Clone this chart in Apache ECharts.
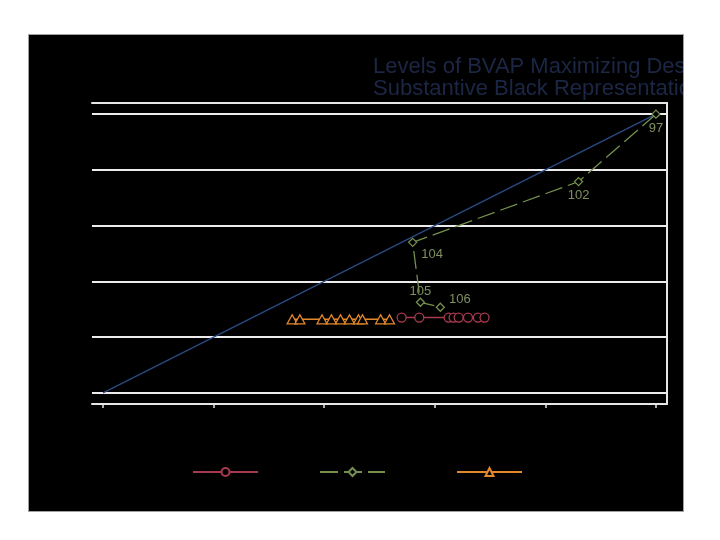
<!DOCTYPE html>
<html>
<head>
<meta charset="utf-8">
<script src="https://cdn.jsdelivr.net/npm/echarts@6/dist/echarts.min.js"></script>
<style>
  html, body { margin: 0; padding: 0; background: #fff; }
  .frame {
    position: absolute;
    left: 28px; top: 34px;
    width: 656px; height: 478px;
    border: 1px solid #a0a0a0;
    box-sizing: border-box;
    background: #000;
  }
  #chart { width: 654px; height: 476px; }
</style>
</head>
<body>
<div class="frame"><div id="chart"></div></div>
<script>
// axis ticks / gridlines (BVAP share)
const tickValues = [0.3, 0.4, 0.5, 0.6, 0.7, 0.8]

// reference diagonal
const diagonal = [[0.3, 0.3], [0.8, 0.8]]

// green series, labelled by congress
const congressLabels = ['97', '102', '104', '105', '106']
const congressX = [0.8, 0.73, 0.58, 0.587, 0.605]
const congressY = [0.8, 0.679, 0.57, 0.4625, 0.4536]

// red circles
const circleX = [0.57, 0.586, 0.6125, 0.617, 0.6216, 0.63, 0.639, 0.645]
const circleY = [0.435, 0.435, 0.435, 0.435, 0.435, 0.435, 0.435, 0.435]

// orange triangles
const triX = [0.471, 0.478, 0.498, 0.5065, 0.5147, 0.5228, 0.531, 0.5346, 0.551, 0.559]
const triY = [0.432, 0.432, 0.432, 0.432, 0.432, 0.432, 0.432, 0.432, 0.432, 0.432]

const seriesNames = ['Descriptive', 'Substantive', 'Equal Opportunity']

const RED = '#a83a4e'
const GREEN = '#75904f'
const ORANGE = '#e3892c'
const BLUE = '#2b4b85'

const labelPos = [
  { position: 'bottom', distance: 3 },
  { position: 'bottom', distance: 3 },
  { position: 'right', offset: [0, 12], distance: 4 },
  { position: 'top', offset: [0, 2], distance: 2 },
  { position: 'right', offset: [0, -8], distance: 4 },
]

const chart = echarts.init(document.getElementById('chart'))

const fmt = (v) => v.toFixed(1)

chart.setOption({
  backgroundColor: '#000',
  animation: false,
  textStyle: { fontFamily: 'Liberation Sans, Arial, sans-serif' },
  title: {
    text: 'Levels of BVAP Maximizing Descriptive and\nSubstantive Black Representation',
    left: 339,
    top: 16,
    textStyle: {
      color: '#1c2746',
      fontSize: 22,
      fontWeight: 'normal',
      lineHeight: 22,
    },
  },
  legend: [0, 1, 2].map((i) => ({
    data: [seriesNames[i]],
    left: [158, 285, 422][i],
    top: 426,
    itemWidth: 65,
    itemHeight: 10,
    textStyle: { color: '#000', fontSize: 12 },
  })),
  grid: { left: 63, top: 68, right: 16, bottom: 107, containLabel: false },
  xAxis: [
    {
      type: 'value',
      min: 0.29,
      max: 0.81,
      splitLine: { show: false },
      axisLine: { show: true, lineStyle: { color: '#e6e6e6', width: 2 } },
      axisTick: {
        show: true,
        customValues: tickValues,
        length: 4,
        lineStyle: { color: '#e6e6e6', width: 1.5 },
      },
      axisLabel: { customValues: tickValues, formatter: fmt, color: '#000', fontSize: 12 },
    },
    {
      type: 'value',
      position: 'top',
      min: 0.29,
      max: 0.81,
      splitLine: { show: false },
      axisLine: { show: true, lineStyle: { color: '#e6e6e6', width: 2 } },
      axisTick: { show: false },
      axisLabel: { show: false },
    },
  ],
  yAxis: [
    {
      type: 'value',
      min: 0.28,
      max: 0.82,
      splitLine: { show: false },
      axisLine: { show: false },
      axisTick: { show: false },
      axisLabel: { customValues: tickValues, formatter: fmt, color: '#000', fontSize: 12 },
    },
    {
      type: 'value',
      position: 'right',
      min: 0.28,
      max: 0.82,
      splitLine: { show: false },
      axisLine: { show: true, lineStyle: { color: '#e6e6e6', width: 2 } },
      axisTick: { show: false },
      axisLabel: { show: false },
    },
  ],
  series: [
    {
      name: 'Diagonal',
      type: 'line',
      data: diagonal,
      symbol: 'none',
      lineStyle: { color: BLUE, width: 1.2 },
      z: 3,
      markLine: {
        silent: true,
        symbol: 'none',
        label: { show: false },
        lineStyle: { color: '#ececec', width: 2, type: 'solid' },
        data: tickValues.map((v) => ({ yAxis: v })),
        z: 1,
      },
    },
    {
      name: seriesNames[0],
      type: 'line',
      data: circleX.map((x, i) => [x, circleY[i]]),
      symbol: 'circle',
      symbolSize: 9,
      itemStyle: { color: '#000', borderColor: RED, borderWidth: 1.3 },
      lineStyle: { color: RED, width: 1.5 },
      z: 4,
    },
    {
      name: seriesNames[1],
      type: 'line',
      data: congressX.map((x, i) => ({
        value: [x, congressY[i]],
        label: Object.assign({ show: true, formatter: congressLabels[i] }, labelPos[i]),
      })),
      symbol: 'diamond',
      symbolSize: 8,
      itemStyle: { color: '#000', borderColor: GREEN, borderWidth: 1.3 },
      lineStyle: { color: GREEN, width: 1.3, type: [18, 6] },
      label: { color: '#7f8f60', fontSize: 13 },
      z: 5,
    },
    {
      name: seriesNames[2],
      type: 'line',
      data: triX.map((x, i) => [x, triY[i]]),
      symbol: 'triangle',
      symbolSize: [10, 9],
      itemStyle: { color: '#000', borderColor: ORANGE, borderWidth: 1.3 },
      lineStyle: { color: ORANGE, width: 1.5 },
      z: 4,
    },
  ],
})
</script>
</body>
</html>
